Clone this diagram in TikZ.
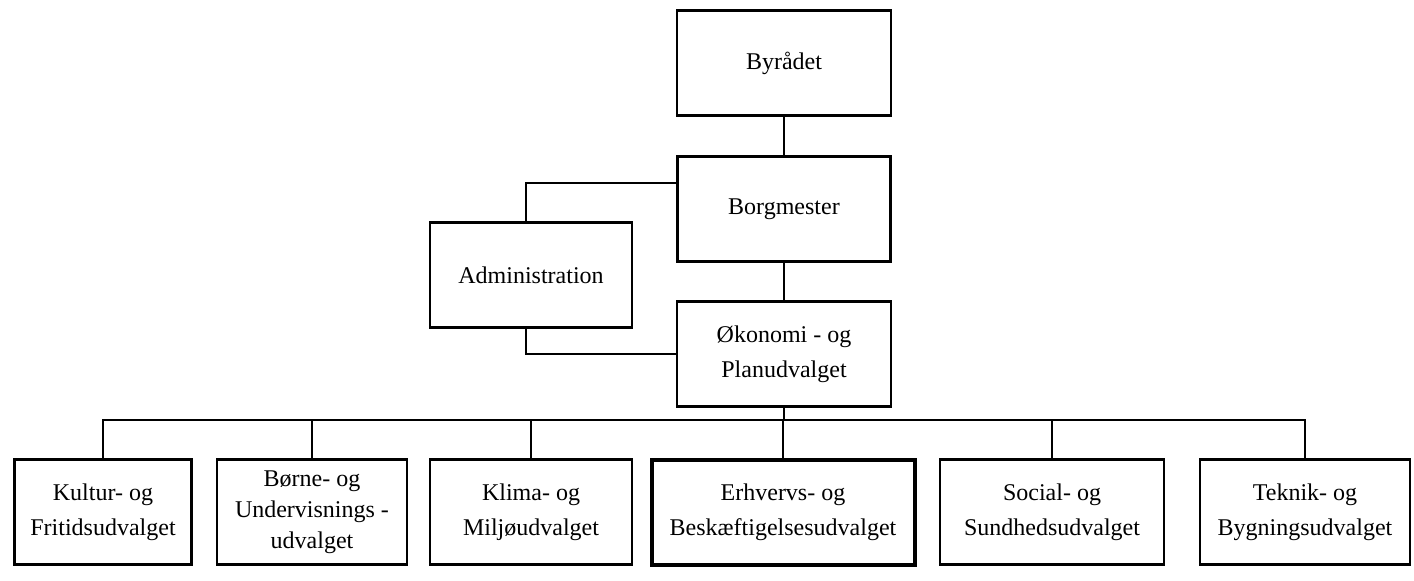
\documentclass[tikz,border=0pt]{standalone}
\usepackage{fontspec}
\setmainfont{Liberation Serif}

\tikzset{
  boks/.style={draw, rectangle, line width=1.3pt, align=center, inner sep=0pt,
    minimum height=52.5pt, font=\fontsize{12}{17.5}\selectfont},
  linje/.style={line width=1.2pt},
}

\begin{document}
\begin{tikzpicture}[x=0.5pt, y=-0.5pt]
                \useasboundingbox (0,0) rectangle (1414,580);
                % top of the chart
                \node[boks, minimum width=107pt] (byraadet) at (784,63) {Byrådet};
                \node[boks, minimum width=106.5pt] (borgmester) at (784,209) {Borgmester};
                \node[boks, minimum width=101pt] (admin) at (531,275) {Administration};
                \node[boks, minimum width=107pt] (oekonomi) at (784,354) {Økonomi - og\\Planudvalget};
                % committees
                \node[boks, minimum width=88.5pt] (kultur) at (103,512) {Kultur- og\\Fritidsudvalget};
                \node[boks, minimum width=95pt, font=\fontsize{12}{15.5}\selectfont] (boerne) at (312,512) {Børne- og\\Undervisnings -\\udvalget};
                \node[boks, minimum width=101pt] (klima) at (531,512) {Klima- og\\Miljøudvalget};
                \node[boks, minimum width=131.5pt, line width=2pt] (erhverv) at (783,512) {Erhvervs- og\\Beskæftigelsesudvalget};
                \node[boks, minimum width=112pt] (social) at (1052,512) {Social- og\\Sundhedsudvalget};
                \node[boks, minimum width=105pt] (teknik) at (1305,512) {Teknik- og\\Bygningsudvalget};
                \coordinate (bus) at (784,420);
                % lines
                \draw[linje] (byraadet) -- (borgmester);
                \draw[linje] (borgmester) -- (oekonomi);
                \draw[linje] ([xshift=-2.5pt]admin.north) |- ([yshift=13pt]borgmester.west);
                \draw[linje] ([xshift=-2.5pt]admin.south) |- (oekonomi.west);
                \draw[linje] (oekonomi) -- (bus);
                \foreach \u in {kultur,boerne,klima,erhverv,social,teknik}
                    \draw[linje] (\u.north) |- (bus);
            \end{tikzpicture}
\end{document}
